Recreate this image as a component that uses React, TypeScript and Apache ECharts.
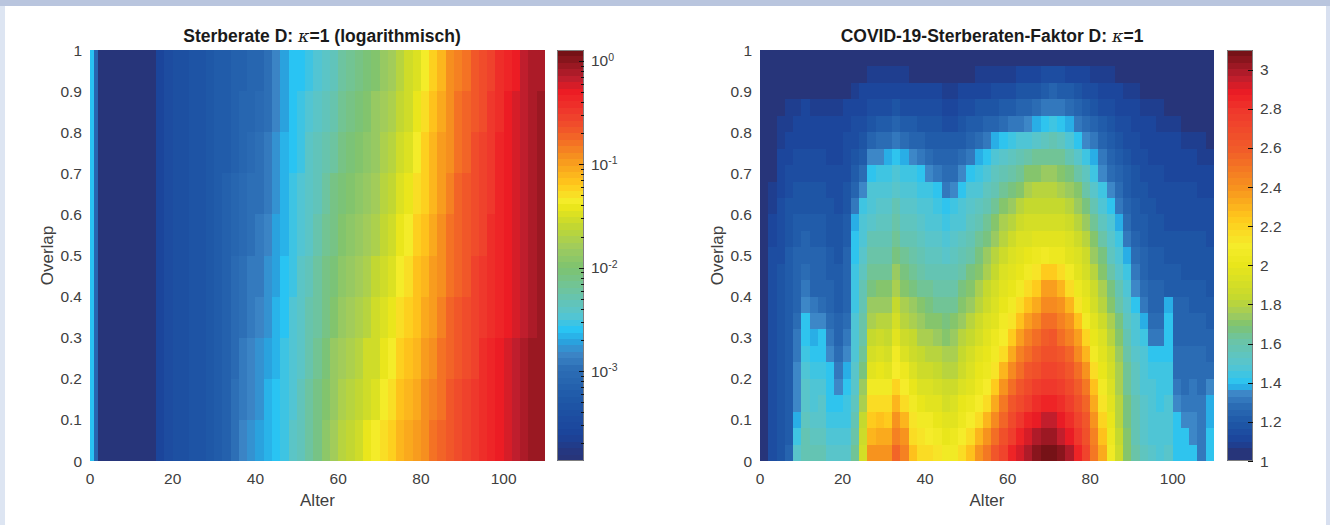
import React, { useEffect, useRef } from "react";
import * as echarts from "echarts";

const palette = ["#27357a","#1b439a","#1f59a8","#2d6fb6","#3d87c7","#2a9fdc","#28c4f4","#56c5d0","#6cc4a4","#7ec36f","#9ecb5f","#c4d82f","#e9e61b","#f5ec2a","#ffc91c","#f7941e","#f15a29","#ef3a2d","#ed1c24","#be1e2d","#6d1014"];
const rateStops = [-381,-362,-326,-297,-283,-273,-260,-246,-224,-200,-181,-159,-142,-135,-120,-94,-69,-50,-30,-17,10];
const factorStops = [105,110,120,129,134.5,136.5,139.5,149,162,169.5,174.5,183,200,210,224,239,260,278,288,296,310];
const rateRange = [-387, 10.6];
const factorRange = [100, 310];
const BANDS = 64;

const rateAgeEdges = [0,1,2,16,18,20,22,24,26,28,30,32,34,36,38,40,42,44,46,48,50,52,54,56,58,60,62,64,66,68,70,72,74,76,78,80,82,84,86,88,90,92,94,96,98,100,102,104,106,108,110];
const rateOverlapEdges = [0,0.1,0.2,0.3,0.4,0.5,0.6,0.7,0.8,0.9,1];
// log10(rate) x 100; one inner list per age band, from overlap 0 upwards
const rateColumns = [
[-260,-260,-260,-260,-260,-260,-260,-260,-260,-260],
[-310,-310,-310,-310,-310,-310,-310,-310,-310,-310],
[-385,-385,-385,-385,-385,-385,-385,-385,-385,-385],
[-362,-362,-362,-362,-362,-362,-362,-362,-362,-362],
[-345,-345,-345,-345,-345,-345,-345,-345,-345,-345],
[-341,-341,-341,-341,-341,-341,-341,-341,-341,-341],
[-339,-339,-339,-339,-339,-339,-339,-339,-339,-339],
[-336,-336,-336,-336,-336,-336,-336,-336,-336,-336],
[-332,-332,-332,-332,-332,-332,-332,-332,-332,-332],
[-328,-328,-328,-328,-328,-328,-328,-328,-328,-328],
[-323,-323,-323,-323,-323,-324,-324,-324,-324,-324],
[-313,-314,-315,-316,-316,-317,-318,-319,-320,-321],
[-297,-299,-301,-304,-306,-308,-310,-313,-315,-318],
[-287,-290,-293,-296,-299,-302,-305,-309,-312,-315],
[-278,-282,-285,-289,-293,-297,-300,-304,-308,-312],
[-272,-276,-280,-284,-288,-292,-296,-300,-304,-308],
[-264,-268,-272,-276,-280,-284,-288,-292,-296,-300],
[-259,-262,-265,-268,-271,-274,-277,-280,-283,-286],
[-251,-254,-256,-258,-260,-263,-265,-267,-270,-272],
[-243,-245,-247,-249,-251,-253,-255,-257,-259,-261],
[-233,-236,-239,-241,-244,-247,-249,-252,-254,-257],
[-222,-225,-228,-231,-235,-238,-241,-244,-248,-251],
[-207,-212,-216,-220,-224,-229,-233,-237,-241,-246],
[-191,-196,-202,-207,-212,-218,-223,-229,-234,-240],
[-176,-182,-188,-195,-201,-207,-213,-220,-226,-232],
[-168,-175,-181,-187,-193,-200,-206,-212,-218,-225],
[-161,-168,-174,-180,-186,-193,-199,-205,-211,-218],
[-153,-160,-166,-172,-178,-185,-191,-197,-203,-210],
[-144,-151,-157,-164,-170,-176,-182,-189,-195,-202],
[-138,-145,-151,-157,-163,-170,-176,-182,-188,-195],
[-130,-136,-142,-148,-154,-161,-166,-173,-179,-185],
[-121,-128,-134,-140,-146,-153,-159,-165,-171,-178],
[-113,-119,-125,-131,-137,-144,-149,-156,-162,-168],
[-106,-112,-117,-123,-128,-134,-140,-146,-151,-157],
[-98,-103,-108,-114,-119,-125,-130,-135,-140,-146],
[-89,-95,-99,-105,-110,-115,-120,-125,-130,-135],
[-82,-87,-91,-96,-100,-104,-109,-113,-117,-122],
[-75,-79,-82,-86,-89,-93,-97,-101,-104,-108],
[-67,-70,-73,-76,-79,-82,-85,-89,-92,-95],
[-59,-62,-65,-68,-71,-74,-76,-79,-82,-85],
[-53,-56,-59,-61,-64,-66,-69,-72,-74,-77],
[-47,-50,-52,-54,-56,-59,-61,-63,-66,-68],
[-41,-43,-45,-47,-49,-52,-54,-56,-58,-60],
[-35,-37,-39,-41,-42,-44,-46,-48,-50,-52],
[-29,-30,-32,-33,-35,-36,-38,-39,-41,-42],
[-24,-25,-26,-27,-28,-29,-30,-31,-32,-33],
[-18,-19,-20,-21,-22,-23,-24,-25,-26,-27],
[-12,-13,-14,-15,-16,-17,-17,-18,-19,-20],
[-6,-7,-8,-9,-9,-10,-11,-12,-12,-13],
[-4,-5,-5,-6,-6,-7,-7,-8,-8,-9],
];

const factorAgeEdges = [0,2,4,6,8,10,12,14,16,18,20,22,24,26,28,30,32,34,36,38,40,42,44,46,48,50,52,54,56,58,60,62,64,66,68,70,72,74,76,78,80,82,84,86,88,90,92,94,96,98,100,102,104,106,108,110];
const factorOverlapEdges = [0,0.04,0.08,0.12,0.16,0.2,0.24,0.28,0.32,0.36,0.4,0.44,0.48,0.52,0.56,0.6,0.64,0.68,0.72,0.76,0.8,0.84,0.88,0.92,0.96,1];
// factor x 100; one inner list per age band, from overlap 0 upwards
const factorColumns = [
[103,103,103,103,103,103,103,103,103,103,103,103,103,103,103,103,103,103,103,103,103,103,103,103,102],
[114,114,114,114,114,114,114,114,114,114,114,114,114,113,111,109,107,105,104,103,103,103,102,102,101],
[118,118,118,118,118,118,118,118,118,118,117,117,116,115,114,114,113,111,110,109,107,105,103,102,101],
[124,121,121,121,121,121,121,121,121,121,121,121,121,119,118,117,116,114,113,111,109,107,105,103,102],
[150,145,137,135,134,133,131,130,128,126,125,124,123,122,120,119,118,116,114,113,111,109,106,104,102],
[158,156,154,152,150,147,144,142,140,134,130,128,125,123,121,119,118,116,114,113,111,110,106,104,102],
[156,154,152,149,146,143,141,138,136,130,126,125,123,122,120,119,118,116,114,113,111,109,106,104,102],
[157,155,152,150,148,145,142,140,135,129,126,125,123,122,120,118,117,115,114,112,111,109,106,104,102],
[150,147,144,142,141,140,136,131,128,125,123,122,120,119,118,117,116,115,113,112,110,109,106,104,102],
[152,148,145,141,134,130,128,126,124,122,121,120,119,118,117,116,115,114,113,112,110,108,105,103,102],
[150,147,145,143,141,138,134,130,127,126,125,124,123,122,120,118,117,116,115,114,112,110,106,104,102],
[165,162,159,155,152,150,148,147,146,145,144,143,142,141,137,130,125,120,117,115,114,112,108,105,102],
[190,187,183,178,173,168,165,162,160,158,156,153,150,148,146,143,135,128,122,119,116,113,110,106,103],
[238,230,222,215,205,197,190,183,178,173,168,163,160,156,152,149,146,142,134,125,119,115,111,107,103],
[240,234,226,216,208,199,192,186,180,175,170,165,161,157,153,150,147,143,136,127,120,116,112,107,103],
[238,232,224,215,207,198,191,185,179,174,169,164,160,156,153,150,147,144,137,128,121,116,112,107,103],
[255,245,238,228,220,210,205,197,190,184,178,173,168,164,160,156,152,147,142,132,123,117,112,107,103],
[245,238,228,218,210,202,195,188,182,177,172,167,163,159,155,152,149,145,139,128,121,116,112,107,103],
[225,218,212,206,200,195,188,183,178,173,168,164,160,157,153,150,147,143,135,126,120,115,111,106,103],
[217,212,206,200,194,188,183,178,174,169,164,160,156,153,150,147,144,140,130,124,119,115,111,106,103],
[215,210,205,198,192,187,182,177,172,167,163,158,155,151,148,146,143,133,127,122,118,114,110,106,103],
[212,207,201,196,189,184,179,174,170,165,161,157,153,150,147,144,141,130,125,121,117,114,110,105,102],
[205,200,196,191,186,181,177,172,168,164,160,156,152,148,145,142,132,127,123,120,116,113,109,105,102],
[207,202,197,192,187,182,178,174,170,165,161,157,153,150,146,143,133,127,123,120,116,113,109,105,102],
[218,210,204,199,194,188,184,180,175,170,166,161,157,153,149,146,142,133,127,122,118,114,110,106,103],
[227,218,210,204,198,193,189,185,180,175,170,166,161,157,153,150,146,141,132,125,120,116,111,106,103],
[238,228,218,210,204,199,196,191,187,182,177,172,168,163,158,153,149,144,137,128,122,117,112,107,103],
[248,238,228,218,210,204,201,196,192,188,184,178,173,168,163,158,153,148,142,132,124,118,113,107,103],
[262,252,242,232,222,212,207,203,198,194,190,185,180,175,170,164,158,153,146,137,126,119,114,108,103],
[272,265,257,248,238,228,218,210,205,200,196,192,187,182,176,170,163,157,150,140,128,120,115,108,104],
[285,277,270,262,252,243,233,224,213,205,201,197,193,188,182,175,168,161,153,143,130,121,116,109,104],
[292,285,278,270,262,254,245,236,227,215,206,201,197,192,186,179,172,165,157,146,132,123,117,110,104],
[300,292,284,277,270,262,254,246,237,227,216,206,200,195,189,183,176,169,160,149,135,125,118,111,104],
[305,297,289,281,274,267,260,252,243,234,224,212,202,197,191,185,179,172,163,152,138,127,119,112,105],
[310,302,294,286,279,272,266,259,251,243,235,223,205,198,191,185,180,173,164,155,141,130,122,114,105],
[310,302,295,287,280,273,267,261,252,244,235,222,204,197,191,185,180,173,165,156,143,131,123,115,106],
[305,296,288,282,275,268,262,254,246,238,229,215,203,196,190,184,178,171,163,153,141,130,122,114,105],
[300,290,283,276,270,263,255,247,238,228,216,205,198,192,186,180,174,167,158,148,137,127,120,113,105],
[285,278,272,266,260,252,244,235,225,213,204,198,193,187,181,175,169,161,152,142,131,124,118,112,104],
[272,267,261,255,248,240,230,219,208,201,196,191,186,180,174,168,161,153,145,136,127,121,116,110,104],
[248,245,240,234,226,217,207,200,196,191,186,181,175,170,164,157,150,144,137,130,123,118,114,109,104],
[232,227,220,212,206,200,196,192,187,182,177,172,166,160,154,148,143,136,130,125,120,116,112,108,103],
[205,202,199,196,193,190,186,182,177,172,167,161,155,150,146,141,134,129,125,121,117,114,111,107,103],
[186,184,182,180,178,176,173,170,166,161,156,151,147,143,137,131,127,124,121,118,115,113,110,106,103],
[172,170,168,167,165,163,161,158,154,150,147,143,138,132,128,125,122,120,118,116,114,112,109,105,103],
[160,158,157,156,155,153,150,148,146,142,136,130,127,124,122,120,119,117,116,114,113,110,107,105,102],
[153,152,151,150,149,148,146,143,137,131,128,125,123,121,120,118,117,116,115,113,111,109,106,104,102],
[150,149,148,147,146,144,141,132,128,126,124,122,120,119,118,117,116,115,113,112,110,108,105,103,102],
[148,147,146,145,144,143,141,132,128,126,124,122,120,118,117,116,115,114,113,111,109,107,104,103,102],
[150,149,148,146,145,143,142,141,140,139,122,120,118,117,116,115,114,113,112,110,108,106,104,103,102],
[142,141,140,135,131,128,127,126,125,124,122,120,118,117,116,115,114,113,112,110,107,105,103,102,102],
[141,140,134,131,129,128,127,126,125,123,121,119,118,117,116,115,114,113,111,109,106,104,103,102,102],
[141,136,133,131,130,129,128,126,124,122,120,119,118,117,116,115,114,112,110,108,105,104,103,102,101],
[132,131,130,130,129,128,127,125,123,121,120,119,118,117,116,115,113,111,109,107,105,103,103,102,101],
[142,141,139,137,134,128,126,124,122,120,119,118,117,116,115,114,112,110,108,106,104,103,102,102,101],
];

const ageTicksMax = 110;
const rateTickMin = 1.35e-4;
const rateTickMax = 1.276;
const factorTickMax = 3.1;
const rateMajorTicks = [1e-3,1e-2,1e-1,1];
const factorMajorTicks = [1,1.2,1.4,1.6,1.8,2,2.2,2.4,2.6,2.8,3];
const minorMantissas = [2,3,4,5,6,7,8,9];
const minorDecades = [1e-4,1e-3,1e-2,1e-1];

const INK = "#404040";
const FONT = "'Liberation Sans', Arial, sans-serif";

function hex(c: string) { return [1,3,5].map((i) => parseInt(c.slice(i,i+2),16)); }
function colorFor(v: number, stops: number[], range: number[]) {
  const b = Math.min(BANDS-1, Math.max(0, Math.floor(((v-range[0])/(range[1]-range[0]))*BANDS)));
  const mid = range[0] + ((b+0.5)/BANDS)*(range[1]-range[0]);
  if (mid <= stops[0]) return palette[0];
  for (let i=1;i<stops.length;i++) {
    if (mid <= stops[i]) {
      const f=(mid-stops[i-1])/(stops[i]-stops[i-1]);
      const a=hex(palette[i-1]), c=hex(palette[i]);
      return `rgb(${a.map((x,k)=>Math.round(x+(c[k]-x)*f)).join(",")})`;
    }
  }
  return palette[palette.length-1];
}
function cells(ageEdges: number[], rowEdges: number[], cols: number[][]) {
  const out: number[][] = [];
  cols.forEach((col,i)=>col.forEach((v,j)=>out.push([ageEdges[i],ageEdges[i+1],rowEdges[j],rowEdges[j+1],v])));
  return out;
}
function cellSeries(data:number[][], stops:number[], range:number[], idx:number) {
  return {
    type:"custom", xAxisIndex:idx, yAxisIndex:idx, data, clip:true, silent:true,
    encode:{x:[0,1],y:[2,3]},
    renderItem:(_p:any, api:any)=>{
      const a=api.coord([api.value(0),api.value(2)]);
      const b=api.coord([api.value(1),api.value(3)]);
      const x=Math.round(a[0]), y=Math.round(b[1]);
      return {type:"rect",shape:{x,y,width:Math.round(b[0])-x,height:Math.round(a[1])-y},style:{fill:colorFor(api.value(4),stops,range)}};
    },
  };
}
function barCells(range:number[], stops:number[], idx:number, toAxis:(v:number)=>number) {
  const data:number[][]=[];
  for(let i=0;i<BANDS;i++){
    const lo=range[0]+(i/BANDS)*(range[1]-range[0]);
    const hi=range[0]+((i+1)/BANDS)*(range[1]-range[0]);
    data.push([0,1,toAxis(lo),toAxis(hi),(lo+hi)/2]);
  }
  return cellSeries(data,stops,range,idx);
}
function frameSeries(idx:number, lo:number, hi:number) {
  return {
    type:"custom", xAxisIndex:idx, yAxisIndex:idx, data:[[0,1,lo,hi]], z:4, clip:false, silent:true,
    encode:{x:[0,1],y:[2,3]},
    renderItem:(_p:any, api:any)=>{
      const a=api.coord([0,api.value(2)]); const b=api.coord([1,api.value(3)]);
      return {type:"rect",shape:{x:Math.round(a[0])+0.5,y:Math.round(b[1])+0.5,width:Math.round(b[0]-a[0])-1,height:Math.round(a[1]-b[1])-1},style:{fill:"none",stroke:"#7f7f7f",lineWidth:1}};
    },
  };
}
function tickSeries(idx:number, values:number[], len:number) {
  return {
    type:"custom", xAxisIndex:idx, yAxisIndex:idx, data:values.map((v)=>[1,v]), z:5, silent:true, clip:false, encode:{x:0,y:1},
    renderItem:(_p:any,api:any)=>{
      const p=api.coord([api.value(0),api.value(1)]);
      const y=Math.round(p[1])+0.5;
      return {type:"line",z2:10,shape:{x1:p[0]-len,y1:y,x2:p[0],y2:y},style:{stroke:"#111",lineWidth:1,fill:"none"}};
    },
  };
}
function mainAxes(idx:number){
  return {
    x:{gridIndex:idx,type:"value",min:0,max:ageTicksMax,interval:20,name:"Alter",nameLocation:"middle",nameGap:31,
      nameTextStyle:{color:INK,fontSize:17,fontFamily:FONT},
      axisLine:{show:false},axisTick:{show:false},splitLine:{show:false},
      axisLabel:{color:INK,fontSize:15.5,fontFamily:FONT,margin:9,showMaxLabel:false}},
    y:{gridIndex:idx,type:"value",min:0,max:1,interval:0.1,name:"Overlap",nameLocation:"middle",nameGap:34,nameRotate:90,
      nameTextStyle:{color:INK,fontSize:17,fontFamily:FONT},
      axisLine:{show:false},axisTick:{show:false},splitLine:{show:false},
      axisLabel:{color:INK,fontSize:15.5,fontFamily:FONT,margin:8}},
  };
}
const hiddenX=(idx:number)=>({gridIndex:idx,type:"value",min:0,max:1,show:false});
const titleRich={b:{fontSize:17.5,fontWeight:"bold",fontFamily:FONT,color:"#1a1a1a"},k:{fontSize:17.5,fontStyle:"italic",fontWeight:"normal",fontFamily:"'DejaVu Serif', serif",color:"#1a1a1a"}};

export default function App(){
  const ref=useRef<HTMLDivElement>(null);
  useEffect(()=>{
    const chart=echarts.init(ref.current!,undefined,{renderer:"svg"});
    const m0=mainAxes(0), m1=mainAxes(2);
    const minorTicks:number[]=[];
    minorDecades.forEach((d)=>minorMantissas.forEach((k)=>{const v=d*k; if(v>rateTickMin&&v<rateTickMax) minorTicks.push(v);}));
    chart.setOption({
      animation:false,
      backgroundColor:"#ffffff",
      title:[
        {text:"{b|Sterberate D: }{k|κ}{b|=1 (logarithmisch)}",left:317,top:22,textAlign:"center",textStyle:{rich:titleRich}},
        {text:"{b|COVID-19-Sterberaten-Faktor D: }{k|κ}{b|=1}",left:987,top:22,textAlign:"center",textStyle:{rich:titleRich}},
      ],
      grid:[
        {left:90,top:50,width:455,height:411},
        {left:557,top:50,width:27,height:411},
        {left:760,top:50,width:454,height:411},
        {left:1227,top:50,width:26,height:411},
      ],
      xAxis:[m0.x,hiddenX(1),m1.x,hiddenX(3)],
      yAxis:[
        m0.y,
        {gridIndex:1,type:"log",logBase:10,min:rateTickMin,max:rateTickMax,position:"right",splitLine:{show:false},
          axisLine:{show:false,onZero:false},axisTick:{show:false},
          axisLabel:{margin:7,showMinLabel:false,showMaxLabel:false,
            formatter:(v:number)=>{const e=Math.log10(v); return Math.abs(e-Math.round(e))<1e-6?`{b|10}{s|${Math.round(e)}}`:"";},
            rich:{b:{fontSize:15.5,color:INK,fontFamily:FONT},s:{fontSize:10.5,color:INK,fontFamily:FONT,padding:[0,0,8,0]}}}},
        m1.y,
        {gridIndex:3,type:"value",min:1,max:factorTickMax,interval:0.2,position:"right",splitLine:{show:false},
          axisLine:{show:false,onZero:false},axisTick:{show:false},
          axisLabel:{color:INK,fontSize:15.5,fontFamily:FONT,margin:7,showMaxLabel:false}},
      ],
      series:[
        cellSeries(cells(rateAgeEdges,rateOverlapEdges,rateColumns),rateStops,rateRange,0),
        barCells(rateRange,rateStops,1,(v)=>Math.pow(10,v/100)),
        frameSeries(1,rateTickMin,rateTickMax),
        tickSeries(1,rateMajorTicks,5),
        tickSeries(1,minorTicks,3),
        cellSeries(cells(factorAgeEdges,factorOverlapEdges,factorColumns),factorStops,factorRange,2),
        barCells(factorRange,factorStops,3,(v)=>v/100),
        frameSeries(3,1,factorTickMax),
        tickSeries(3,factorMajorTicks,5),
      ],
    });
    return ()=>chart.dispose();
  },[]);
  const band=(s:React.CSSProperties)=><div style={{position:"absolute",zIndex:2,...s}}/>;
  return (
    <div style={{position:"absolute",left:0,top:0,width:1330,height:525,overflow:"hidden",background:"#fff"}}>
      <div ref={ref} style={{position:"absolute",left:0,top:0,width:1330,height:525}}/>
      {band({left:0,top:0,width:5,height:525,background:"#dde5f2"})}
      {band({left:1326,top:0,width:4,height:525,background:"#d8e0f0"})}
      {band({left:0,top:0,width:1330,height:6,background:"#b9c5de"})}
    </div>
  );
}
